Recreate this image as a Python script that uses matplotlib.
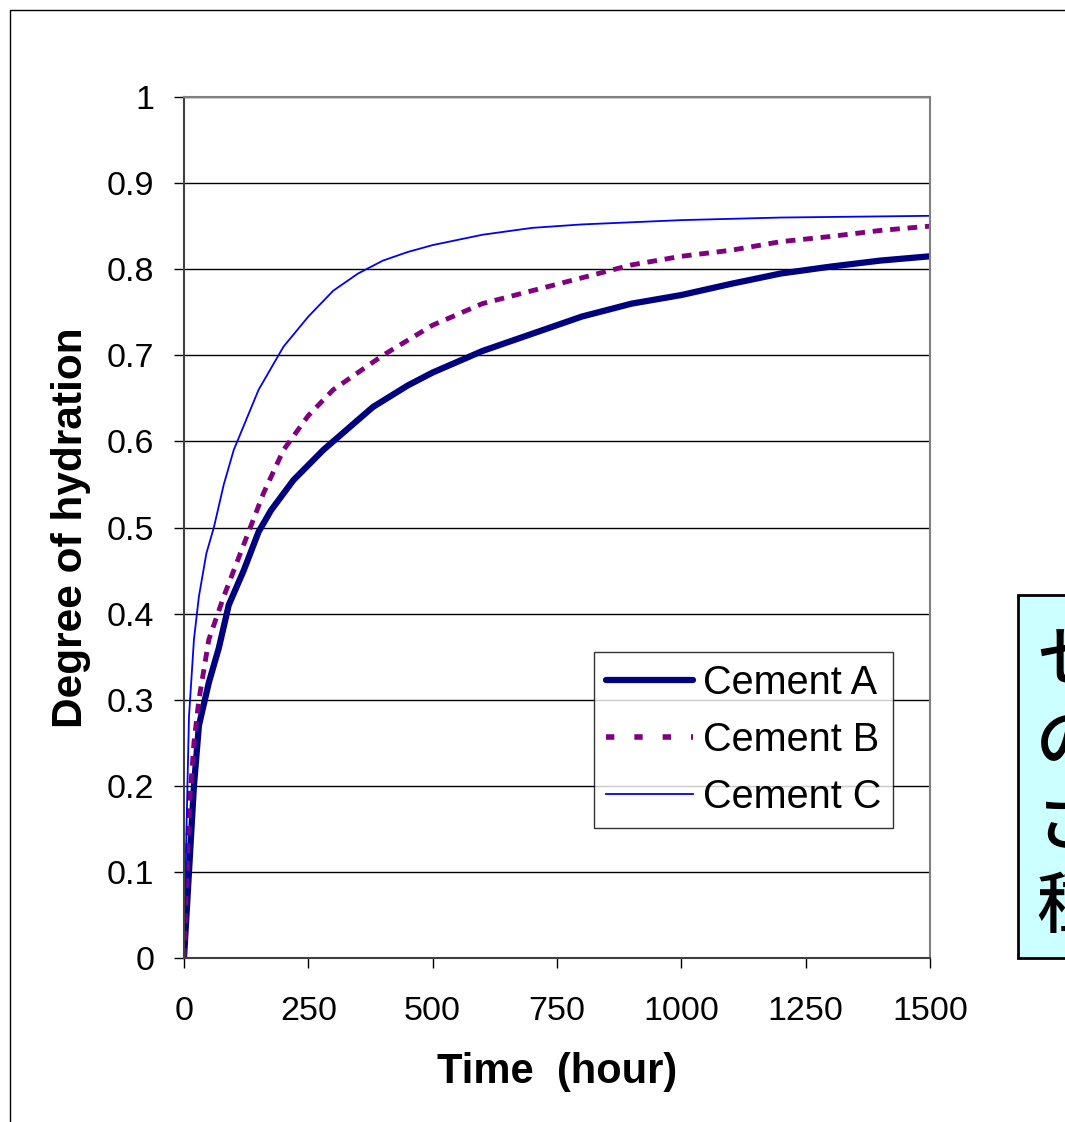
import matplotlib
matplotlib.use("Agg")
import matplotlib.pyplot as plt
from matplotlib.patches import Rectangle
from matplotlib.lines import Line2D

plt.rcParams['font.family'] = ['Liberation Sans', 'DejaVu Sans']

# hydration curves
time_a = [0, 5, 10, 20, 30, 50, 70, 90, 120, 150, 175, 220, 280, 330, 380, 450, 500,
          600, 700, 800, 900, 1000, 1100, 1200, 1300, 1400, 1500]
cement_a = [0, 0.05, 0.1, 0.2, 0.27, 0.32, 0.36, 0.41, 0.45, 0.495, 0.52, 0.555, 0.59,
            0.615, 0.64, 0.665, 0.68, 0.705, 0.725, 0.745, 0.76, 0.77, 0.783, 0.795,
            0.803, 0.81, 0.815]

time_b = [0, 5, 10, 20, 30, 50, 80, 120, 160, 200, 250, 300, 350, 400, 500, 600, 700,
          800, 900, 1000, 1100, 1200, 1300, 1400, 1500]
cement_b = [0, 0.09, 0.17, 0.25, 0.3, 0.37, 0.42, 0.48, 0.54, 0.59, 0.63, 0.66, 0.68,
            0.70, 0.735, 0.76, 0.775, 0.79, 0.805, 0.815, 0.822, 0.832, 0.838, 0.845, 0.85]

time_c = [0, 5, 10, 20, 30, 45, 60, 80, 100, 150, 200, 250, 300, 350, 400, 450, 500,
          600, 700, 800, 1000, 1200, 1500]
cement_c = [0, 0.15, 0.28, 0.37, 0.42, 0.47, 0.5, 0.55, 0.59, 0.66, 0.71, 0.745, 0.775,
            0.795, 0.81, 0.82, 0.828, 0.84, 0.848, 0.852, 0.857, 0.86, 0.862]

labels = ["Cement A", "Cement B", "Cement C"]
x_ticks = [0, 250, 500, 750, 1000, 1250, 1500]
y_ticks = [0, 0.1, 0.2, 0.3, 0.4, 0.5, 0.6, 0.7, 0.8, 0.9, 1]
side_chars = ["セ", "の", "さ", "種"]

fig = plt.figure(figsize=(10.65, 11.22), dpi=100)

# outer chart frame (cut off at right / bottom)
fig.patches.append(Rectangle((10 / 1065, -0.1), 1.2, (1112 / 1122) + 0.1,
                             transform=fig.transFigure, fill=False,
                             edgecolor='black', linewidth=1))

ax = fig.add_axes([184 / 1065, 1 - 958 / 1122, 746 / 1065, 861 / 1122])

ax.plot(time_a, cement_a, color='#000080', linewidth=4.5)
ax.plot(time_b, cement_b, color='#800080', linewidth=3.5, linestyle=(0, (2, 1.6)))
ax.plot(time_c, cement_c, color='#0000FF', linewidth=1.3)

ax.set_xlim(0, 1500)
ax.set_ylim(0, 1)
ax.set_xticks(x_ticks)
ax.set_yticks(y_ticks)
ax.set_yticklabels([f"{v:g}" for v in y_ticks])
ax.tick_params(labelsize=24.5, length=7.5, width=1, direction='out')
ax.tick_params(axis='x', pad=20)
ax.tick_params(axis='y', pad=14)
ax.yaxis.grid(True, color='black', linewidth=1)
ax.set_axisbelow(True)

for side in ['top', 'right']:
    ax.spines[side].set_color('#808080')
    ax.spines[side].set_linewidth(1.5)
for side in ['left', 'bottom']:
    ax.spines[side].set_color('#404040')
    ax.spines[side].set_linewidth(1.5)

ax.set_xlabel("Time  (hour)", fontsize=30, fontweight='bold', labelpad=18)
ax.set_ylabel("Degree of hydration", fontsize=30.5, fontweight='bold', labelpad=11)

# legend handles (Excel draws the dashed one with wider gaps)
handles = [Line2D([], [], color='#000080', linewidth=4.5, solid_capstyle='round'),
           Line2D([], [], color='#800080', linewidth=4, linestyle=(0, (1.5, 3.6))),
           Line2D([], [], color='#0000FF', linewidth=1.3)]
leg = ax.legend(handles, labels, loc='upper left',
                bbox_to_anchor=(594 / 1065, 1 - 652 / 1122),
                bbox_transform=fig.transFigure, fontsize=28.5, frameon=True,
                fancybox=False, edgecolor='black', handlelength=2.2,
                borderpad=0.3, labelspacing=0.48, handletextpad=0.25,
                borderaxespad=0)
leg.get_frame().set_linewidth(1)

# side note box, mostly outside the picture
fig.patches.append(Rectangle((1018 / 1065, 1 - 958 / 1122), 0.2, 363 / 1122,
                             transform=fig.transFigure, facecolor='#CCFFFF',
                             edgecolor='black', linewidth=2))
for i, ch in enumerate(side_chars):
    fig.text(1036 / 1065, 1 - (662 + i * 82) / 1122, ch, fontsize=48,
             fontweight='medium', family=['Noto Sans CJK JP', 'DejaVu Sans'],
             va='center', ha='left')

fig.savefig("out.png", dpi=100)
